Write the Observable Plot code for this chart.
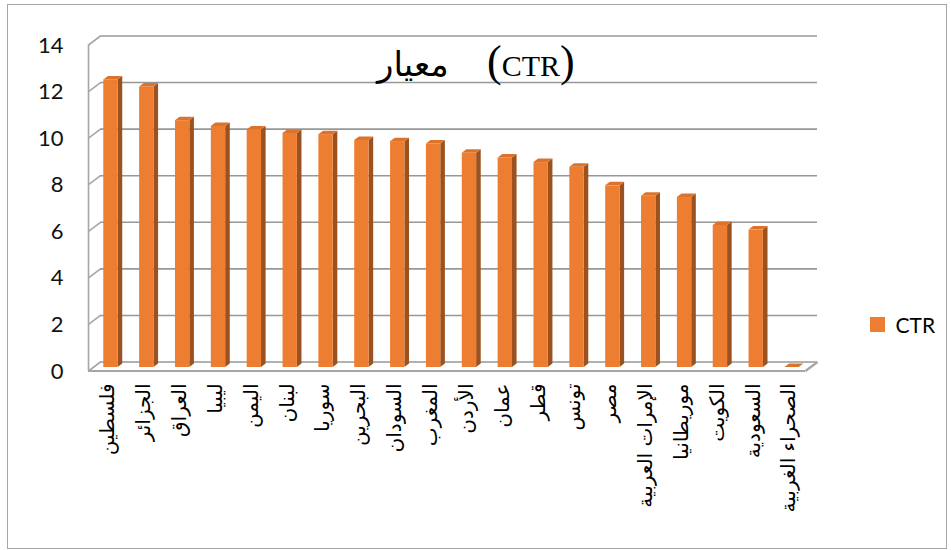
<!DOCTYPE html>
<html><head><meta charset="utf-8">
<script src="https://cdn.jsdelivr.net/npm/d3@7"></script>
<script src="https://cdn.jsdelivr.net/npm/@observablehq/plot@0.6"></script>
<style>
body{margin:0;background:#fff}
#wrap{position:relative;width:951px;height:550px;overflow:hidden;background:#fff}
#border{position:absolute;left:7px;top:4px;width:938px;height:543px;border:1px solid #a6a6a6;pointer-events:none}
#legend{position:absolute;left:870px;top:308px}
</style></head>
<body><div id="wrap"><div id="border"></div></div>
<script>
// ---- data ----
const countries = ["فلسطين","الجزائر","العراق","ليبيا","اليمن","لبنان","سوريا","البحرين","السودان","المغرب","الأردن","عمان","قطر","تونس","مصر","الإمرات العربية","موريطانيا","الكويت","السعودية","الصحراء الغربية"];
const values = [12.35, 12.05, 10.6, 10.35, 10.2, 10.05, 10.0, 9.75, 9.7, 9.6, 9.2, 9.0, 8.8, 8.6, 7.8, 7.35, 7.3, 6.1, 5.9, 0];
const yTicks = [0, 2, 4, 6, 8, 10, 12, 14];
const series = ["CTR"];
const titleArabic = "معيار";
const titleLatin = "CTR";

// ---- layout / style ----
const W = 951, H = 550, ML = 94, MR = 140, MT = 40, MB = 184;
const N = countries.length, YMAX = 14;
const kx = (W - ML - MR) / N, ky = (H - MT - MB) / YMAX;
const hx = 6 / kx, hy = 4.5 / ky;          // half depth of the 3D box
const bx = 4.6 / kx, by = 3.5 / ky;        // depth of each bar
const F1 = 0.259, F2 = 0.659;              // front face position inside a slot
const ORANGE = "#ED7D31", SIDE = "#9C521F", CAP = "#DC732C", GRID = "#979797";

const data = countries.map((c, i) => ({country: c, value: values[i], i}));
const sideData = data.flatMap(d => [
  {c: d.country, x: d.i + F2, y1: 0, y2: d.value},
  {c: d.country, x: d.i + F2 + bx, y1: by, y2: d.value + by}
]);
const capData = data.flatMap(d => [
  {c: d.country, y: d.value, x1: d.i + F1, x2: d.i + F2},
  {c: d.country, y: d.value + by, x1: d.i + F1 + bx, x2: d.i + F2 + bx}
]);

const chart = Plot.plot({
  width: W, height: H,
  marginLeft: ML, marginRight: MR, marginTop: MT, marginBottom: MB,
  x: {domain: [0, N], axis: null},
  y: {domain: [0, YMAX], axis: null},
  style: {background: "white", fontFamily: "Lato, sans-serif"},
  marks: [
    // back-wall gridlines
    Plot.ruleY(yTicks, {y: d => d + hy, x1: hx, x2: N + hx, stroke: GRID, strokeWidth: 1.6}),
    // left wall diagonals and front edge
    Plot.link(yTicks, {x1: -hx, y1: d => d - hy, x2: hx, y2: d => d + hy, stroke: "#a6a6a6", strokeWidth: 1.6}),
    Plot.ruleX([-hx], {y1: -hy, y2: YMAX - hy, stroke: "#a6a6a6", strokeWidth: 1.6}),
    // floor
    Plot.ruleY([-hy], {x1: -hx, x2: N - hx, stroke: "#a6a6a6", strokeWidth: 2.2}),
    Plot.link([0], {x1: N - hx, y1: -hy, x2: N + hx, y2: hy, stroke: "#a6a6a6", strokeWidth: 2.2}),
    // bars: side, cap, front
    Plot.areaY(sideData, {x: "x", y1: "y1", y2: "y2", z: "c", fill: SIDE, dy: 1}),
    Plot.areaX(capData, {y: "y", x1: "x1", x2: "x2", z: "c", fill: CAP, dy: 1}),
    Plot.rect(data, {x1: d => d.i + F1, x2: d => d.i + F2, y1: () => 0, y2: "value", fill: ORANGE, dy: 1}),
    // y tick labels
    Plot.text(yTicks, {frameAnchor: "left", y: d => d, text: d => String(d), textAnchor: "end",
      dx: -31, dy: 5, fontSize: 22, fill: "#111"}),
    // category labels
    Plot.text(data, {x: d => d.i + 0.5, y: () => 0, text: "country", rotate: -90, textAnchor: "end",
      dx: -4.5, dy: 17, fontSize: 20, fontFamily: "DejaVu Sans", fill: "#000"})
  ]
});

const wrap = document.getElementById("wrap");
chart.style.position = "absolute";
chart.style.left = "0px";
chart.style.top = "0px";
wrap.insertBefore(chart, wrap.firstChild);

// title
const svg = d3.select(chart);
svg.append("text").attr("x", 377).attr("y", 76).attr("text-anchor", "start")
  .attr("font-family", "DejaVu Sans").attr("font-size", 34).attr("fill", "#000")
  .text(titleArabic);
const t2 = svg.append("text").attr("x", 487).attr("y", 76).attr("text-anchor", "start").attr("direction", "ltr")
  .attr("font-family", "'Liberation Serif', serif").attr("fill", "#000");
t2.append("tspan").attr("font-size", 44).text("(");
t2.append("tspan").attr("font-size", 30).text(titleLatin);
t2.append("tspan").attr("font-size", 44).text(")");

// legend
const leg = Plot.legend({
  color: {type: "ordinal", domain: series, range: [ORANGE]},
  swatchSize: 15,
  style: {fontFamily: "Lato, sans-serif", fontSize: "21px", color: "#000"}
});
const lw = document.createElement("div");
lw.id = "legend";
lw.appendChild(leg);
wrap.appendChild(lw);
</script>
</body></html>
